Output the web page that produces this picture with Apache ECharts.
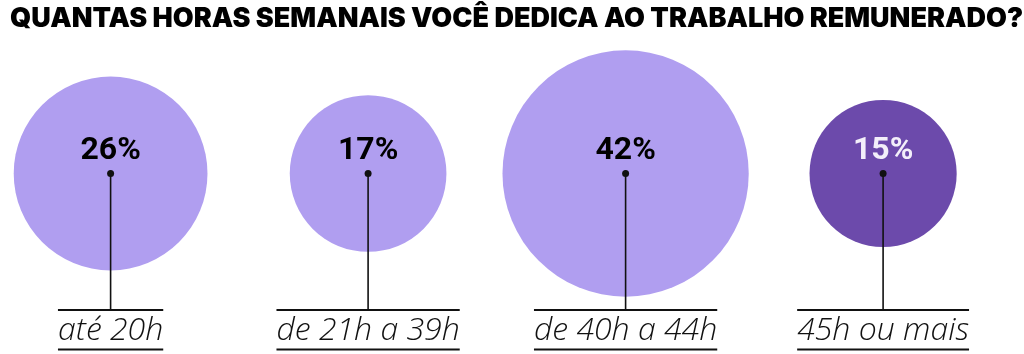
<!DOCTYPE html>
<html>
<head>
<meta charset="utf-8">
<script src="https://cdn.jsdelivr.net/npm/echarts@6/dist/echarts.min.js"></script>
<style>
html,body{margin:0;padding:0;background:#fff;}
#chart{width:1024px;height:354px;}
</style>
</head>
<body>
<div id="chart"></div>
<script>
const titleText = 'QUANTAS HORAS SEMANAIS VOCÊ DEDICA AO TRABALHO REMUNERADO?';
const categories = ['até 20h', 'de 21h a 39h', 'de 40h a 44h', '45h ou mais'];
const values = [26, 17, 42, 15];
const highlightIndex = 3;

const R_SCALE = 19;          // px of radius per sqrt(percent)
const LIGHT = '#b09ef0';
const DARK = '#6c4aab';
const LINE = '#111111';
const LABEL_FONT_SIZE = 32;
const LABEL_FONT = 'italic 300 ' + LABEL_FONT_SIZE + 'px "Open Sans"';

const measureCtx = document.createElement('canvas').getContext('2d');
function textWidth(t) { measureCtx.font = LABEL_FONT; return measureCtx.measureText(t).width; }

const chart = echarts.init(document.getElementById('chart'), null, { renderer: 'canvas' });

const pointData = values.map((v, i) => [i, 0, v]);

chart.setOption({
  animation: false,
  title: {
    text: titleText,
    left: 5,
    top: 0,
    textStyle: { fontFamily: 'Inter', fontWeight: 900, fontSize: 27, color: '#000' }
  },
  grid: { left: 110.6, right: 140.9, top: 73.5, height: 200 },
  xAxis: { type: 'category', data: categories, boundaryGap: false, show: false },
  yAxis: { type: 'category', data: [''], show: false },
  series: [
    {
      type: 'scatter',
      data: pointData.map((d, i) => i === highlightIndex
        ? { value: d, label: { color: '#f3effa' } }
        : d),
      symbol: 'circle',
      symbolSize: d => 2 * R_SCALE * Math.sqrt(d[2]),
      itemStyle: {
        color: p => p.dataIndex === highlightIndex ? DARK : LIGHT,
        opacity: 1
      },
      label: {
        show: true,
        position: 'inside',
        offset: [0, -23],
        formatter: p => p.value[2] + '%',
        fontFamily: 'Roboto',
        fontWeight: 'bold',
        fontSize: 32,
        color: '#000'
      },
      z: 1
    },
    {
      type: 'custom',
      data: pointData,
      z: 5,
      renderItem: function (params, api) {
        const c = api.coord([api.value(0), api.value(1)]);
        const name = categories[params.dataIndex];
        const w = textWidth(name);
        const baseY = c[1] + 136.5;
        const underY = 349.5;
        return {
          type: 'group',
          children: [
            { type: 'line', shape: { x1: c[0], y1: c[1], x2: c[0], y2: baseY }, style: { stroke: LINE, lineWidth: 1.6 } },
            { type: 'circle', shape: { cx: c[0], cy: c[1], r: 3.5 }, style: { fill: LINE } },
            { type: 'line', shape: { x1: c[0] - w / 2, y1: baseY, x2: c[0] + w / 2, y2: baseY }, style: { stroke: LINE, lineWidth: 2 } },
            { type: 'text', style: {
                text: name, x: c[0], y: 331, align: 'center', verticalAlign: 'middle',
                font: LABEL_FONT, fill: '#111' } },
            { type: 'line', shape: { x1: c[0] - w / 2, y1: underY, x2: c[0] + w / 2, y2: underY }, style: { stroke: LINE, lineWidth: 2 } }
          ]
        };
      }
    }
  ]
});
</script>
</body>
</html>
